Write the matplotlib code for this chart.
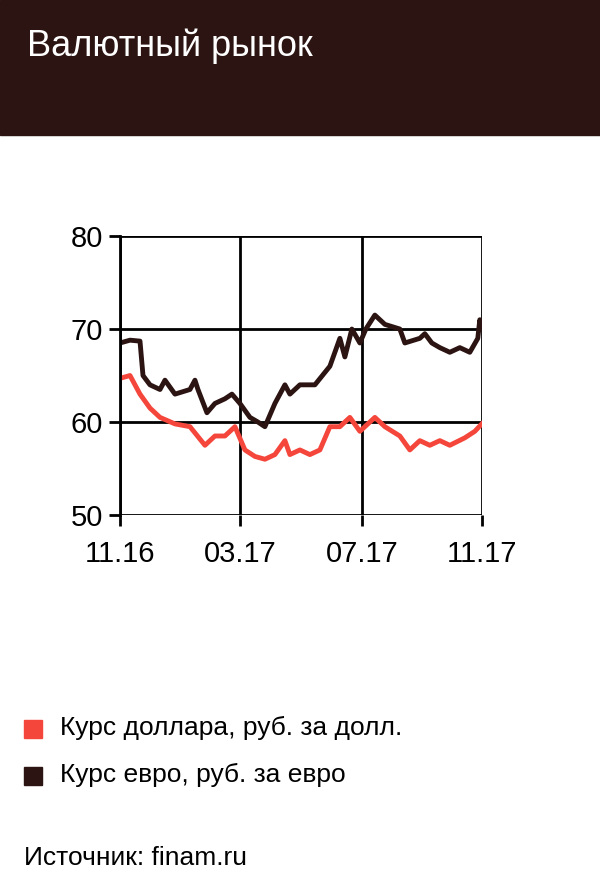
import matplotlib
matplotlib.use("Agg")
import matplotlib.pyplot as plt
from matplotlib.patches import Rectangle

plt.rcParams['font.family'] = ['Liberation Sans', 'DejaVu Sans']

eur_days = [0,10,20,23,30,40,45,55,70,75,78,87,95,105,112,120,130,138,145,155,165,170,180,195,210,220,225,232,240,246,255,265,280,285,300,305,312,320,330,340,350,358,360,362]
eur_vals = [68.5,68.8,68.7,65,64,63.5,64.5,63,63.5,64.5,63.5,61,62,62.5,63,62,60.5,60,59.5,62,64,63,64,64,66,69,67,70,68.5,70,71.5,70.5,70,68.5,69,69.5,68.5,68,67.5,68,67.5,69,71,70]
usd_days = [0,10,20,30,40,55,70,85,95,105,115,125,135,145,155,165,170,180,190,200,210,220,230,240,255,265,280,290,300,310,320,330,345,355,362]
usd_vals = [64.7,65,63,61.5,60.5,59.8,59.5,57.5,58.5,58.5,59.5,57,56.3,56,56.5,58,56.5,57,56.5,57,59.5,59.5,60.5,59,60.5,59.5,58.5,57,58,57.5,58,57.5,58.3,59,59.8]
tick_pos = [0,120,242,362]
tick_labels = ["11.16","03.17","07.17","11.17"]

fig = plt.figure(figsize=(6,8.92), dpi=100)
fig.patches.append(Rectangle((0,1-135/892),1,135/892,transform=fig.transFigure,color='#2b1412',zorder=0))
fig.text(0.045,1-46/892,"Валютный рынок",color='white',fontsize=26,va='center')

ax = fig.add_axes([0.2,0.4226,0.603,0.3128])
ax.plot(eur_days,eur_vals,color='#2b1412',lw=3.5,solid_joinstyle='round')
ax.plot(usd_days,usd_vals,color='#f5463c',lw=3.5,solid_joinstyle='round')
ax.set_xlim(0,362); ax.set_ylim(50,80)
ax.set_xticks(tick_pos); ax.set_xticklabels(tick_labels)
ax.set_yticks([50,60,70,80])
ax.grid(True,color='black',lw=2)
for s in ['top','right']: ax.spines[s].set_visible(False)
ax.spines['left'].set_linewidth(2); ax.spines['bottom'].set_visible(False)
ax.tick_params(length=8,width=2,labelsize=21,pad=4)
ax.tick_params(axis='x',pad=10)

fig.patches.append(Rectangle((24/600,1-738/892),18/600,18/892,transform=fig.transFigure,color='#f5463c'))
fig.text(60/600,1-728/892,"Курс доллара, руб. за долл.",fontsize=19,va='center')
fig.patches.append(Rectangle((24/600,1-785/892),18/600,18/892,transform=fig.transFigure,color='#2b1412'))
fig.text(60/600,1-775/892,"Курс евро, руб. за евро",fontsize=19,va='center')
fig.text(24/600,1-858/892,"Источник: finam.ru",fontsize=19,va='center')
fig.savefig("out.png",dpi=100)
